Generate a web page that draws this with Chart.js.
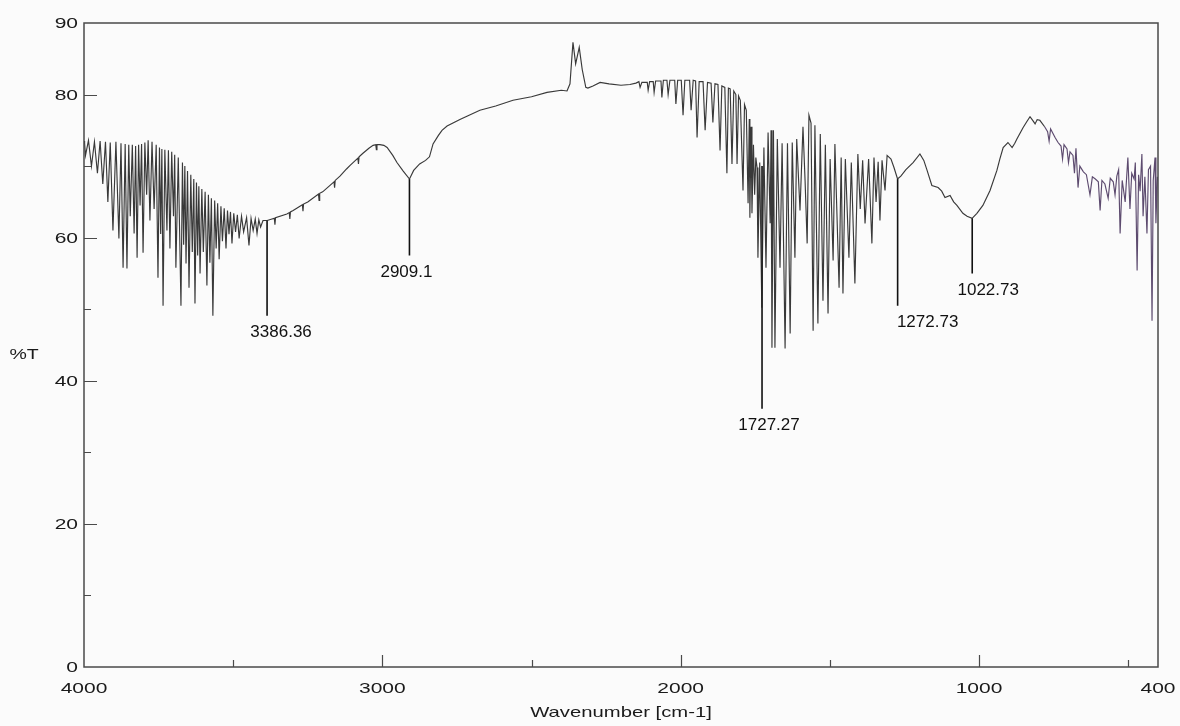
<!DOCTYPE html>
<html>
<head>
<meta charset="utf-8">
<title>IR spectrum</title>
<style>
  html, body { margin: 0; padding: 0; background: #fbfbfb; }
  #wrap { width: 1180px; height: 726px; }
</style>
<script src="https://cdn.jsdelivr.net/npm/chart.js@4/dist/chart.umd.min.js"></script>
</head>
<body>
<div id="wrap"><canvas id="chart" width="1180" height="726"></canvas></div>
<script>
// spectrum as [wavenumber, %T]
const spectrumOH = [
  [4000,73.5],[3998,73.2],[3995,71.5],[3985,73.6],[3975,70.0],[3965,73.4],[3955,69.0],[3946,73.5],[3937,67.5],[3928,73.4],
  [3920,65.0],[3912,73.3],[3903,61.0],[3893,73.4],[3883,59.9],[3876,73.2],[3869,55.8],[3862,73.1],[3856,55.7],[3850,73.0],
  [3845,63.0],[3838,73.0],[3832,60.6],[3827,72.8],[3822,57.2],[3817,73.0],[3812,64.5],[3807,73.1],[3802,57.9],[3796,73.3],
  [3790,66.0],[3785,73.6],[3779,62.4],[3772,73.4],[3765,64.0],[3758,73.0],[3752,54.4],[3747,72.6],[3743,60.5],[3739,72.4],
  [3735,50.5],[3729,72.3],[3722,61.0],[3717,72.2],[3712,58.5],[3706,72.0],[3700,63.0],[3696,71.6],[3692,55.8],[3684,71.2],
  [3675,50.5],[3670,70.5],[3666,59.0],[3662,70.0],[3658,56.4],[3653,69.3],[3648,53.0],[3642,68.8],[3637,58.0],[3632,68.2],
  [3628,50.8],[3623,67.7],[3619,57.5],[3615,67.2],[3611,55.0],[3605,66.8],[3600,58.0],[3594,66.4],[3588,53.3],[3583,66.0],
  [3578,56.5],[3573,65.5],[3568,49.1],[3562,65.2],[3557,58.5],[3552,64.8],[3547,57.0],[3541,64.4],[3536,59.5],[3530,64.1],
  [3524,58.5],[3519,63.8],[3514,60.5],[3509,63.6],[3504,59.2],[3498,63.4],[3492,60.8],[3486,63.2],[3480,59.9],[3472,63.0],
  [3465,60.8],[3455,62.8],[3447,58.9],[3440,62.7],[3433,61.0],[3426,62.6],[3420,60.6],[3414,62.5],[3408,61.5],[3400,62.4]
];
const spectrumCH = [
  [3386,62.4],[3370,62.6],[3362,62.7],[3360,61.8],[3358,62.8],[3320,63.3],[3312,63.5],[3310,62.6],[3308,63.6],[3299,63.8],
  [3268,64.6],[3266,63.7],[3264,64.7],[3250,65.0],[3214,66.1],[3212,65.2],[3210,66.2],[3200,66.4],[3162,67.8],[3160,67.0],
  [3158,68.0],[3142,68.6],[3120,69.6],[3108,70.1],[3090,70.8],[3082,71.1],[3080,70.3],[3078,71.3],[3065,71.8],[3045,72.5],
  [3031,72.9],[3022,73.0],[3020,72.3],[3018,73.0],[3008,73.0],[2995,72.9],[2984,72.6],[2965,71.5],[2951,70.5],[2930,69.3],
  [2909,68.2],[2895,69.4],[2875,70.3],[2855,70.8],[2842,71.3],[2830,73.1],[2812,74.3],[2800,75.0],[2783,75.6],[2740,76.5],
  [2673,77.8],[2620,78.4],[2562,79.2],[2500,79.7],[2448,80.3],[2400,80.6],[2381,80.5],[2371,81.5],[2361,87.3],[2352,84.3],
  [2340,86.6],[2330,83.5],[2318,81.0],[2311,80.9],[2294,81.2],[2270,81.7],[2240,81.5],[2200,81.3],[2170,81.4],[2150,81.6]
];
const spectrumCO = [
  [2140,81.8],[2136,81.0],[2130,81.7],[2112,81.7],[2109,80.6],[2104,81.8],[2092,81.8],[2089,80.3],[2084,81.9],[2066,81.9],
  [2063,79.6],[2058,82.0],[2046,82.0],[2042,80.0],[2036,82.0],[2020,82.0],[2016,78.7],[2010,82.0],[1998,82.0],[1992,77.1],
  [1986,82.0],[1970,82.0],[1965,77.8],[1958,82.0],[1950,81.9],[1945,74.0],[1938,81.8],[1925,81.8],[1918,75.0],[1910,81.7],
  [1898,81.6],[1892,76.1],[1885,81.5],[1875,81.4],[1868,72.2],[1862,81.2],[1852,81.0],[1845,69.0],[1840,80.9],[1834,80.8],
  [1828,70.3],[1822,80.5],[1815,80.0],[1811,70.3],[1806,79.8],[1800,79.2],[1791,66.6],[1786,78.6],[1780,77.8],[1774,64.8],
  [1770,76.6],[1768,62.8],[1764,75.5],[1761,63.4],[1756,73.0],[1752,66.0],[1748,71.2],[1744,69.8],[1741,57.2],[1735,70.5],
  [1728,50.2],[1721,72.6],[1714,55.8],[1707,74.7],[1700,62.0],[1697,75.0],[1694,44.6],[1689,75.0],[1684,44.6],[1676,73.8],
  [1667,55.8],[1660,73.2],[1650,44.5],[1642,73.2],[1633,46.6],[1626,73.3],[1617,57.2],[1611,73.8],[1600,63.8],[1590,75.5],
  [1583,68.0],[1576,59.2],[1570,77.1],[1563,76.0],[1556,47.0],[1550,75.7],[1540,48.0],[1532,74.5],[1523,51.2],[1515,73.0],
  [1506,49.4],[1499,71.0],[1489,56.8],[1483,73.1],[1469,53.0],[1462,71.2],[1456,52.2],[1448,71.0],[1436,57.2],[1428,70.5],
  [1416,53.6],[1406,71.7],[1398,64.0],[1390,70.8],[1382,62.0],[1370,71.0],[1359,59.2],[1352,71.2],[1345,65.0],[1338,70.6],
  [1332,62.4],[1325,70.8],[1315,66.6],[1308,71.5]
];
const spectrumFinger = [
  [1295,71.0],[1285,69.8],[1273,68.2],[1262,68.6],[1245,69.5],[1221,70.5],[1198,71.7],[1185,70.8],[1174,69.4],[1158,67.3],
  [1137,67.0],[1125,66.5],[1114,65.6],[1097,65.9],[1085,65.0],[1074,64.5],[1054,63.4],[1040,63.0],[1023,62.7],[1007,63.4],
  [987,64.5],[963,66.6],[940,69.4],[930,71.0],[919,72.6],[903,73.3],[889,72.6],[880,73.2],[873,73.8],[852,75.4],
  [840,76.2],[829,76.9],[820,76.4],[812,75.9],[805,76.5],[796,76.4],[780,75.5],[770,74.8],[765,73.5],[760,75.2],
  [745,74.0],[735,73.3],[725,72.8],[720,71.0],[715,73.0],[705,72.4],[700,70.5],[695,72.0],[685,71.5],[680,69.0],
  [675,72.5],[668,67.0],[662,70.0],[650,69.2],[640,68.8],[628,66.0],[620,68.5],[610,68.2],[600,67.8],[594,63.8],
  [588,68.0],[578,67.5],[567,65.5],[560,68.3],[550,67.8],[544,66.0],[538,68.6],[532,69.5],[527,60.6],[520,68.0],
  [510,65.0],[505,68.5],[501,71.2],[494,64.0],[488,69.0],[480,68.2],[476,70.5],[470,55.4],[465,68.8],[460,66.5],
  [454,71.7],[450,63.0],[444,68.5],[437,60.6],[432,69.5],[425,70.0],[420,48.4],[416,68.0],[410,71.2],[407,62.0],
  [402,68.5],[400,68.0]
];

// peak picks
const peakWavenumbers = [3386.36, 2909.1, 1727.27, 1272.73, 1022.73];
const peakLabels = ["3386.36", "2909.1", "1727.27", "1272.73", "1022.73"];
const peakTop = [62.4, 68.2, 70.0, 68.2, 62.7];
const peakBottom = [49.1, 57.5, 36.1, 50.5, 55.0];

// axes
const xTickValues = [3500, 3000, 2500, 2000, 1500, 1000, 500];
const xTickLabels = [4000, 3000, 2000, 1000, 400];
const yTickValues = [10, 20, 30, 40, 50, 60, 70, 80];
const yTickLabels = [0, 20, 40, 60, 80, 90];

const labelShift = [14, -3, 7, 30, 16];

let canvas = document.getElementById("chart");
let context = canvas.getContext("2d");

const allPoints = spectrumOH.concat(spectrumCH, spectrumCO, spectrumFinger)
  .map(p => ({ x: p[0], y: p[1] }));

let datasets = [
  {
    data: allPoints,
    borderColor: "rgba(35,35,35,0.9)",
    borderWidth: 1.15,
    pointRadius: 0,
    tension: 0,
    segment: {
      borderColor: c => c.p0.parsed.x < 790 ? "rgba(75,55,95,0.9)" : undefined
    }
  }
];
peakWavenumbers.forEach((wn, i) => {
  datasets.push({
    data: [{ x: wn, y: peakTop[i] }, { x: wn, y: peakBottom[i] }],
    borderColor: "#111",
    borderWidth: 1.6,
    pointRadius: 0
  });
});

// draw text stretched sideways like the scanned plotter font
const wideText = (ctx, text, x, y, align, sx) => {
  ctx.save();
  ctx.translate(x, y);
  ctx.scale(sx, 1);
  ctx.textAlign = align;
  ctx.textBaseline = "middle";
  ctx.fillText(text, 0, 0);
  ctx.restore();
};

const frame = {
  id: "frame",
  afterDraw(chart) {
    const { ctx, chartArea: a, scales } = chart;
    const xs = scales.x, ys = scales.y;
    ctx.save();
    ctx.strokeStyle = "#4a4a4a";
    ctx.lineWidth = 1.5;
    ctx.strokeRect(a.left, a.top, a.right - a.left, a.bottom - a.top);

    ctx.lineWidth = 1.2;
    ctx.beginPath();
    yTickValues.forEach(v => {
      const py = Math.round(ys.getPixelForValue(v)) + 0.5;
      const len = v % 20 === 0 ? 13 : 7;
      ctx.moveTo(a.left, py);
      ctx.lineTo(a.left + len, py);
    });
    xTickValues.forEach(v => {
      const px = Math.round(xs.getPixelForValue(v)) + 0.5;
      const len = v % 1000 === 0 ? 12 : 7;
      ctx.moveTo(px, a.bottom);
      ctx.lineTo(px, a.bottom - len);
    });
    ctx.stroke();

    ctx.fillStyle = "#1a1a1a";
    ctx.font = "15px 'Liberation Sans', Arial, sans-serif";
    yTickLabels.forEach(v => {
      wideText(ctx, String(v), a.left - 6, ys.getPixelForValue(v) + 1, "right", 1.4);
    });
    xTickLabels.forEach(v => {
      wideText(ctx, String(v), xs.getPixelForValue(v), a.bottom + 22, "center", 1.4);
    });
    wideText(ctx, "%T", 24, 355, "center", 1.3);
    wideText(ctx, "Wavenumber [cm-1]", (a.left + a.right) / 2, a.bottom + 46, "center", 1.35);

    ctx.fillStyle = "#111";
    ctx.font = "17px 'Liberation Sans', Arial, sans-serif";
    peakWavenumbers.forEach((wn, i) => {
      const px = xs.getPixelForValue(wn) + labelShift[i];
      const py = ys.getPixelForValue(peakBottom[i]) + 17;
      wideText(ctx, peakLabels[i], px, py, "center", 1.0);
    });
    ctx.restore();
  }
};

let chart = new Chart(context, {
  type: "line",
  data: { datasets: datasets },
  options: {
    responsive: false,
    devicePixelRatio: 1,
    animation: false,
    parsing: true,
    layout: { padding: { left: 84, right: 22, top: 23, bottom: 59 } },
    plugins: { legend: { display: false }, tooltip: { enabled: false } },
    scales: {
      x: { type: "linear", reverse: true, min: 400, max: 4000, display: false },
      y: { type: "linear", min: 0, max: 90, display: false }
    }
  },
  plugins: [frame]
});
</script>
</body>
</html>
